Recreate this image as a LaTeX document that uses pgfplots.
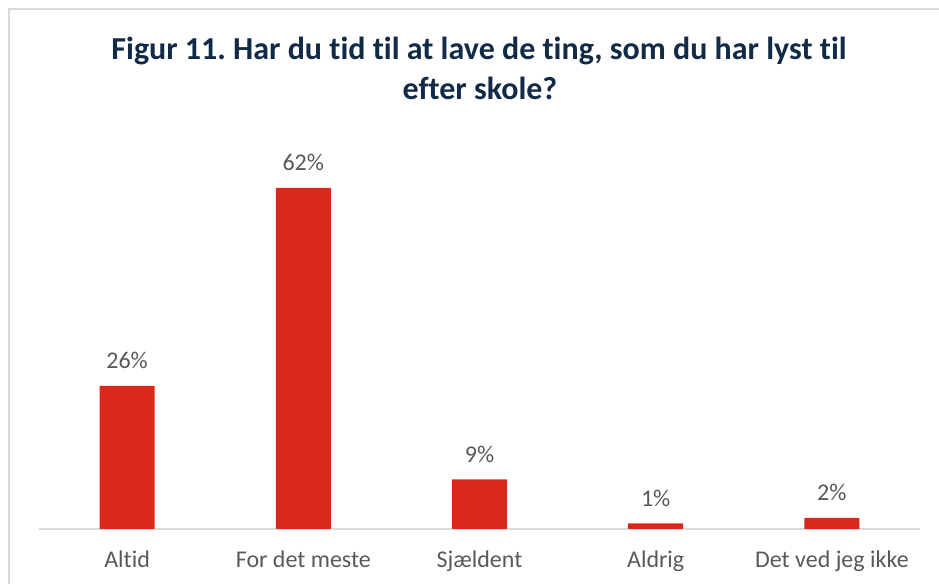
\documentclass[border=0pt]{standalone}
\usepackage{fontspec}
\setmainfont{Carlito}[Ligatures=NoCommon]
\usepackage{pgfplots}
\pgfplotsset{compat=1.18}
\definecolor{barred}{HTML}{DA291C}
\definecolor{titlenavy}{HTML}{112A46}
\definecolor{labelgray}{HTML}{595959}
\definecolor{linegray}{HTML}{D9D9D9}
\frenchspacing
\begin{document}
\begin{tikzpicture}[x=0.75pt,y=0.75pt]
% frame, picture is 939 x 584 px (1px = 0.75pt)
\path[use as bounding box] (0,0) rectangle (939,584);
\draw[linegray, line width=1.5pt] (9,0) -- (9,575) -- (939,575);

\node[anchor=base, font=\fontsize{24}{28}\selectfont\bfseries, text=titlenavy] at (479,524)
  {Figur 11.\ Har du tid til at lave de ting, som du har lyst til};
\node[anchor=base, font=\fontsize{24}{28}\selectfont\bfseries, text=titlenavy] at (480,484)
  {efter skole?};

\begin{axis}[
    at={(29.25pt,41.25pt)}, anchor=south west,
    scale only axis,
    width=660.75pt, height=288.75pt,
    xmin=-0.5, xmax=4.5,
    ymin=0, ymax=70,
    axis x line*=bottom,
    axis y line=none,
    x axis line style={linegray, line width=1.2pt, -},
    xtick=data,
    xticklabels={Altid, For det meste, Sjældent, Aldrig, Det ved jeg ikke},
    major tick length=0pt,
    xticklabel style={anchor=base, yshift=-29.25pt, font=\fontsize{18}{21}\selectfont, text=labelgray},
    ybar, bar width=41.25pt,
    clip=false,
    nodes near coords={\pgfmathprintnumber[assume math mode=true]{\pgfplotspointmeta}\%},
    nodes near coords style={anchor=base, yshift=12.75pt, font=\fontsize{18}{21}\selectfont, text=labelgray},
]
\addplot[draw=none, fill=barred] coordinates {(0,26) (1,62) (2,9) (3,1) (4,2)};
\end{axis}
\end{tikzpicture}
\end{document}
